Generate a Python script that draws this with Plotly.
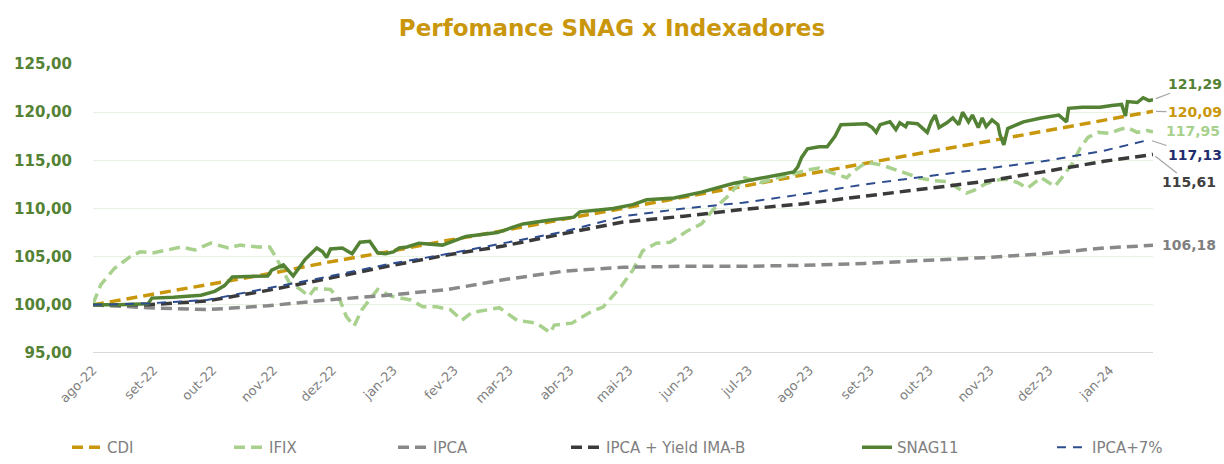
import plotly.graph_objects as go

# ---------------- data ----------------
snag_dates = ["2022-08-04","2022-08-17","2022-09-01","2022-09-03","2022-09-14","2022-09-28","2022-10-05","2022-10-10","2022-10-14",
    "2022-11-01","2022-11-03","2022-11-09","2022-11-14","2022-11-20","2022-11-26","2022-11-29","2022-12-01","2022-12-03",
    "2022-12-09","2022-12-14","2022-12-18","2022-12-23","2022-12-27","2022-12-31","2023-01-04","2023-01-07","2023-01-11",
    "2023-01-17","2023-01-29","2023-02-10","2023-02-26","2023-03-11","2023-03-25","2023-04-06","2023-04-09","2023-04-26",
    "2023-05-06","2023-05-13","2023-05-27","2023-06-10","2023-06-26","2023-07-14","2023-07-27","2023-07-29","2023-07-31",
    "2023-08-03","2023-08-09","2023-08-13","2023-08-17","2023-08-20","2023-09-02","2023-09-05","2023-09-07","2023-09-09",
    "2023-09-14","2023-09-17","2023-09-19","2023-09-22","2023-09-23","2023-09-28","2023-10-03","2023-10-05","2023-10-07",
    "2023-10-09","2023-10-13","2023-10-16","2023-10-19","2023-10-21","2023-10-24","2023-10-26","2023-10-29","2023-10-31",
    "2023-11-02","2023-11-05","2023-11-08","2023-11-09","2023-11-11","2023-11-13","2023-11-21","2023-11-30","2023-12-09",
    "2023-12-13","2023-12-14","2023-12-21","2023-12-30","2024-01-05","2024-01-10","2024-01-12","2024-01-13","2024-01-18",
    "2024-01-21","2024-01-24","2024-01-26"]
snag_values = [100.0,100.0,100.1,100.7,100.8,101.0,101.4,102.0,102.9,
    103.0,103.6,104.15,103.0,104.7,105.9,105.5,104.9,105.8,
    105.9,105.3,106.5,106.6,105.4,105.3,105.5,105.9,106.0,
    106.4,106.2,107.1,107.5,108.4,108.8,109.1,109.65,110.0,
    110.4,110.9,111.1,111.7,112.6,113.3,113.8,114.3,115.3,
    116.2,116.4,116.4,117.5,118.7,118.8,118.4,117.9,118.7,
    119.0,118.2,118.9,118.5,118.9,118.8,117.9,119.0,119.7,
    118.4,118.9,119.4,118.7,120.0,119.0,119.7,118.4,119.4,
    118.5,119.2,118.7,117.7,116.6,118.3,119.0,119.4,119.7,
    119.0,120.4,120.5,120.5,120.7,120.8,119.6,121.1,121.0,
    121.5,121.2,121.29]

ifix_dates = ["2022-08-04","2022-08-08","2022-08-15","2022-08-23","2022-08-28","2022-09-04","2022-09-11","2022-09-18","2022-09-25",
    "2022-10-03","2022-10-12","2022-10-18","2022-10-27","2022-11-02","2022-11-05","2022-11-09","2022-11-12","2022-11-17",
    "2022-11-22","2022-11-25","2022-12-03","2022-12-08","2022-12-11","2022-12-15","2022-12-19","2022-12-27","2023-01-03",
    "2023-01-13","2023-01-19","2023-01-26","2023-02-02","2023-02-08","2023-02-13","2023-02-27","2023-03-08","2023-03-18",
    "2023-03-25","2023-03-27","2023-04-05","2023-04-14","2023-04-21","2023-04-30","2023-05-06","2023-05-11","2023-05-18",
    "2023-05-25","2023-06-03","2023-06-10","2023-06-16","2023-06-23","2023-06-28","2023-07-02","2023-07-10","2023-07-16",
    "2023-07-25","2023-08-03","2023-08-09","2023-08-14","2023-08-23","2023-08-26","2023-09-02","2023-09-10","2023-09-18",
    "2023-09-23","2023-09-28","2023-10-06","2023-10-13","2023-10-18","2023-10-23","2023-10-27","2023-11-02","2023-11-09",
    "2023-11-13","2023-11-18","2023-11-23","2023-11-30","2023-12-07","2023-12-11","2023-12-16","2023-12-20","2023-12-24",
    "2023-12-29","2024-01-04","2024-01-09","2024-01-13","2024-01-18","2024-01-23","2024-01-26"]
ifix_values = [100.1,102.1,103.8,105.0,105.5,105.4,105.7,106.0,105.7,
    106.4,105.9,106.2,106.0,106.0,105.0,103.4,102.3,101.7,
    100.9,101.7,101.6,100.4,98.8,97.8,99.5,101.6,100.9,
    100.5,99.8,99.8,99.5,98.4,99.2,99.7,98.4,98.1,
    97.1,97.9,98.1,99.2,99.8,101.9,103.6,105.6,106.4,
    106.5,107.7,108.4,109.9,111.2,112.3,113.2,112.7,113.0,
    113.5,114.0,114.2,113.8,113.2,113.8,114.8,114.5,114.0,
    113.6,113.2,112.9,112.8,112.2,111.6,111.9,112.6,113.0,
    113.0,112.7,112.1,113.2,112.3,113.3,114.7,116.3,117.4,
    117.9,117.8,118.2,118.4,117.9,118.1,117.95]

month_dates = ["2022-08-04","2022-09-01","2022-10-01","2022-11-01","2022-12-01","2023-01-01","2023-02-01","2023-03-01",
    "2023-04-01","2023-05-01","2023-06-01","2023-07-01","2023-08-01","2023-09-01","2023-10-01","2023-11-01",
    "2023-12-01","2024-01-01","2024-01-26"]
cdi_values = [100.0,101.0,102.1,103.2,104.4,105.5,106.7,107.7,108.9,110.0,111.2,112.3,113.5,114.7,115.8,116.9,118.0,119.2,120.09]
ipca_values = [100.0,99.7,99.5,99.9,100.5,101.0,101.6,102.6,103.5,103.9,104.0,104.0,104.1,104.3,104.6,104.9,105.3,105.9,106.18]
ipca_yield_values = [100.0,100.0,100.4,101.5,102.7,104.0,105.2,106.1,107.4,108.6,109.2,109.9,110.5,111.3,112.0,112.8,113.8,114.9,115.61]
ipca7_dates = ["2022-08-04","2022-09-01","2022-10-01","2022-11-01","2022-12-01","2023-01-01","2023-02-01","2023-03-01",
    "2023-04-01","2023-05-01","2023-06-01","2023-07-01","2023-08-01","2023-09-01","2023-10-01","2023-11-01",
    "2023-12-01","2024-01-01","2024-01-24"]
ipca7_values = [100.0,100.15,100.5,101.7,102.9,104.2,105.3,106.4,107.6,109.2,110.0,110.6,111.5,112.5,113.3,114.1,114.9,116.0,117.13]

tick_dates = ["2022-08-04","2022-09-04","2022-10-04","2022-11-04","2022-12-04","2023-01-04","2023-02-04","2023-03-04",
    "2023-04-04","2023-05-04","2023-06-04","2023-07-04","2023-08-04","2023-09-04","2023-10-04","2023-11-04",
    "2023-12-04","2024-01-04"]
tick_labels = ["ago-22","set-22","out-22","nov-22","dez-22","jan-23","fev-23","mar-23","abr-23","mai-23","jun-23",
    "jul-23","ago-23","set-23","out-23","nov-23","dez-23","jan-24"]

# ---------------- styles ----------------
C_CDI = "#C9970C"
C_IFIX = "#A9D18E"
C_IPCA = "#898989"
C_YIELD = "#3A3A3A"
C_SNAG = "#548235"
C_IPCA7 = "#2E4D8F"
FONT_W = "DejaVu Sans"

series = [
    ("CDI", month_dates, cdi_values, C_CDI, 3.5, "11px,6px", "legend2", 67),
    ("IFIX", ifix_dates, ifix_values, C_IFIX, 3.5, "11px,6px", "legend3", 229),
    ("IPCA", month_dates, ipca_values, C_IPCA, 3.5, "11px,6px", "legend4", 393),
    ("IPCA + Yield IMA-B", month_dates, ipca_yield_values, C_YIELD, 3.5, "11px,6px", "legend5", 566),
    ("SNAG11", snag_dates, snag_values, C_SNAG, 3.5, "solid", "legend6", 857),
    ("IPCA+7%", ipca7_dates, ipca7_values, C_IPCA7, 2, "9px,7px", "legend7", 1052),
]

fig = go.Figure()
legend_layout = {}
for name, xs, ys, col, w, dash, lg, lx in series:
    fig.add_trace(go.Scatter(x=xs, y=ys, mode="lines", name=name,
                             line=dict(color=col, width=w, dash=dash), legend=lg))
    legend_layout[lg] = dict(orientation="h", xref="container", yref="container", yanchor="bottom",
                             xanchor="left", x=lx / 1224, y=0.0,
                             font=dict(family=FONT_W, size=15, color="#808080"),
                             bgcolor="rgba(0,0,0,0)")

def fmt(v):
    return f"{v:.2f}".replace(".", ",")

# end labels
end_labels = [
    (snag_dates[-1], snag_values[-1], C_SNAG, 42, -16, True),
    (month_dates[-1], cdi_values[-1], C_CDI, 42, 1, True),
    (ifix_dates[-1], ifix_values[-1], C_IFIX, 40, -1, False),
    (ipca7_dates[-1], ipca7_values[-1], "#1F2D6E", 46, 15, True),
    (month_dates[-1], ipca_yield_values[-1], "#404040", 36, 28, True),
    (month_dates[-1], ipca_values[-1], "#7F7F7F", 36, 0, False),
]
annotations = []
for x, y, col, ax, ay, arrow in end_labels:
    f = dict(family=FONT_W, size=14, color=col, weight="bold")
    if arrow:
        annotations.append(dict(x=x, y=y, xref="x", yref="y", text=fmt(y), showarrow=True, arrowhead=0,
                                arrowwidth=1.2, arrowcolor="#A6A6A6", ax=ax, ay=ay, standoff=3, font=f))
    else:
        annotations.append(dict(x=x, y=y, xref="x", yref="y", text=fmt(y), showarrow=False,
                                xshift=ax, yshift=-ay, font=f))

fig.update_layout(
    width=1224, height=464,
    margin=dict(l=93, r=71, t=64, b=111),
    paper_bgcolor="white", plot_bgcolor="white",
    separators=",.",
    showlegend=True,
    title=dict(text="Perfomance SNAG x Indexadores", x=0.5, xref="container", xanchor="center",
               y=1 - 28 / 464, yref="container", yanchor="middle",
               font=dict(family=FONT_W, size=23, color="#C9960C", weight="bold")),
    xaxis=dict(type="date", range=["2022-08-04", "2024-01-26"], tickvals=tick_dates, ticktext=tick_labels,
               tickangle=-45, showgrid=False, zeroline=False, showline=False, ticklabelstandoff=6,
               tickfont=dict(family=FONT_W, size=13, color="#7F7F7F")),
    yaxis=dict(range=[95, 125], dtick=5, tickformat=".2f", showgrid=True, gridcolor="#E8F2E0", gridwidth=1.2,
               zeroline=False, showline=False, ticklabelstandoff=20,
               tickfont=dict(family=FONT_W, size=15, color=C_SNAG, weight="bold")),
    annotations=annotations,
    **legend_layout,
)
# bottom axis line at 95
fig.add_hline(y=95, line=dict(color="#D9D9D9", width=2), layer="below")

fig.write_html("out.html", config={"displayModeBar": False},
               post_script="document.body.style.margin='0';document.body.style.padding='0';")
